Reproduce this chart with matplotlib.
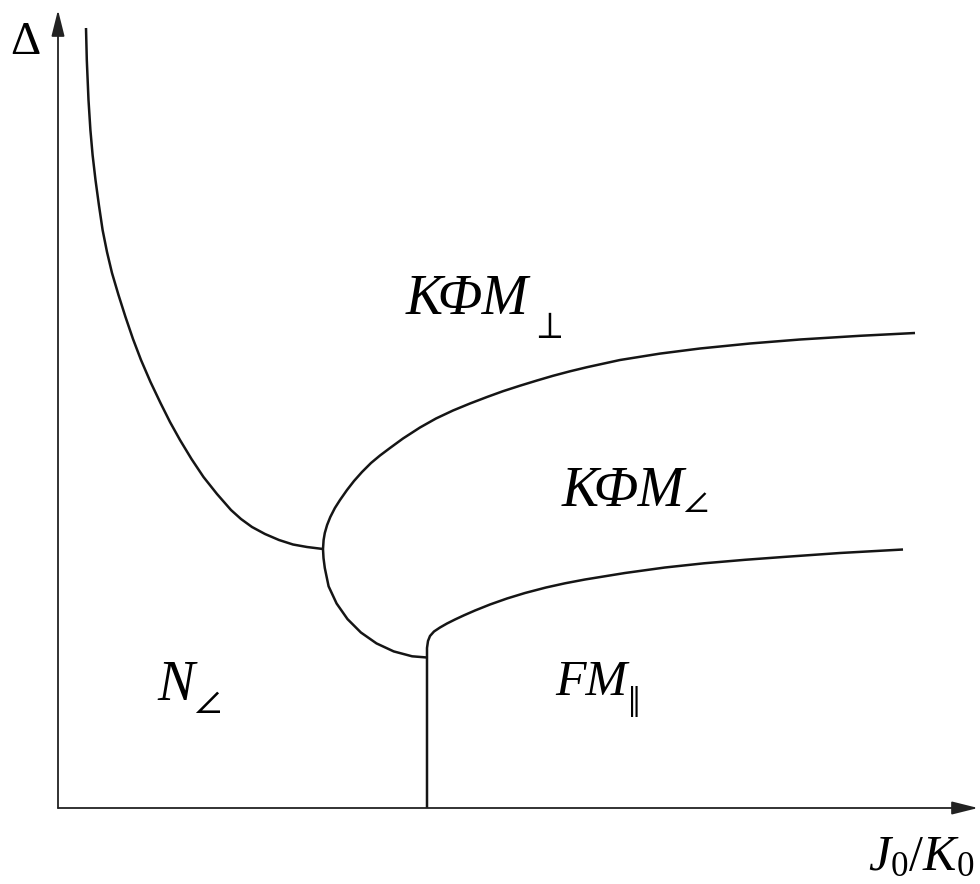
import matplotlib
matplotlib.use("Agg")
import matplotlib.pyplot as plt

plt.rcParams['mathtext.fontset'] = 'custom'
plt.rcParams['mathtext.rm'] = 'Liberation Serif'
plt.rcParams['mathtext.it'] = 'Liberation Serif:italic'
plt.rcParams['mathtext.fallback'] = 'stix'

# phase boundaries, J0/K0 and Delta in arbitrary units
# N / KFM_perp boundary
b1_x = [28, 28.8, 30.5, 32.4, 34.6, 37.5, 40.9, 44.6, 49, 54, 60.5, 67.5, 75, 83,
        92.5, 102.5, 112, 122, 133.5, 145.5, 159, 173, 183, 194, 207, 221, 235, 249, 265]
b1_y = [780, 748, 708, 678, 653, 628, 603, 578, 556, 535, 513, 491, 469, 448,
        426, 405, 386, 368, 349, 331, 314, 298, 289, 281, 274, 268, 263.5, 261, 259]

# KFM_perp / KFM_angle boundary, running on down to the triple point
b2_x = [857, 802, 742, 692, 642, 602, 562, 529, 512, 495, 479, 462, 445, 429, 412,
        395, 378, 362, 345, 332, 322, 313, 304, 296, 289, 282, 276.9, 272.3, 269.1,
        266.8, 265.6, 265,
        265.5, 266.8, 270.6, 278.6, 289.5, 302.9, 318.5, 335.7, 354.1, 369]
b2_y = [475, 472.2, 468.5, 464.5, 459.5, 454.4, 448, 440.8, 436.7, 432.2, 427.5,
        422.3, 416.8, 411, 404.5, 397.5, 389.5, 380.5, 369.5, 360, 352.5, 345, 336,
        327, 318, 308, 300, 291, 283, 275, 268, 259,
        250, 240, 221.7, 204.5, 188.9, 175.5, 164.6, 156.6, 151.7, 150.5]

# N / FM boundary and KFM_angle / FM boundary
b3_x = [369, 369, 369, 370, 372, 376, 382, 389, 397, 406, 417, 432, 449, 467, 488,
        507, 527, 567, 607, 646, 687, 725, 782, 845]
b3_y = [0, 150.5, 160, 167, 172, 176.5, 180.5, 184.5, 188.5, 192.7, 197.5, 203.5,
        209.5, 215, 220.5, 224.7, 228.5, 235, 240.5, 244.7, 248.2, 251, 255, 258.5]

# region labels: name, subscript, positions and sizes
names = ['КФМ', 'КФМ', 'N', 'FM']
subs = [r'$\perp$', r'$\angle$', r'$\angle$', r'$\Vert$']
name_x = [348, 504, 99, 497]
name_y = [494, 302, 108, 113]
name_size = [40, 40, 40, 36]
sub_x = [473, 625, 136, 569]
sub_y = [470, 296, 95, 91]
sub_size = [27, 26, 28, 32]

fig = plt.figure(figsize=(9.8, 8.84), dpi=100)
ax = fig.add_axes([0, 0, 1, 1])
ax.set_xlim(-58, 922)
ax.set_ylim(-76, 808)
ax.axis('off')

for xs, ys in [(b1_x, b1_y), (b2_x, b2_y), (b3_x, b3_y)]:
    ax.plot(xs, ys, color='#151515', lw=1.8, solid_capstyle='butt', solid_joinstyle='round')

# axes with arrows
arr = dict(arrowstyle='-|>,head_length=0.8,head_width=0.2', mutation_scale=20,
           lw=1.3, color='#222222', shrinkA=0, shrinkB=0)
ax.annotate('', xy=(0, 798), xytext=(0, 0), arrowprops=arr)
ax.annotate('', xy=(920, 0), xytext=(0, 0), arrowprops=arr)

ax.text(-33, 754, r'$\Delta$', fontsize=34, ha='center', va='baseline')
ax.text(916, -62, r'$J_0/K_0$', fontsize=36, ha='right', va='baseline')

for n, s, nx, ny, ns, sx, sy, ss in zip(names, subs, name_x, name_y, name_size,
                                        sub_x, sub_y, sub_size):
    ax.text(nx, ny, n, fontsize=ns, fontfamily='Liberation Serif', fontstyle='italic',
            ha='left', va='baseline')
    ax.text(sx, sy, s, fontsize=ss, ha='left', va='baseline')

fig.savefig('out.png', dpi=100)
